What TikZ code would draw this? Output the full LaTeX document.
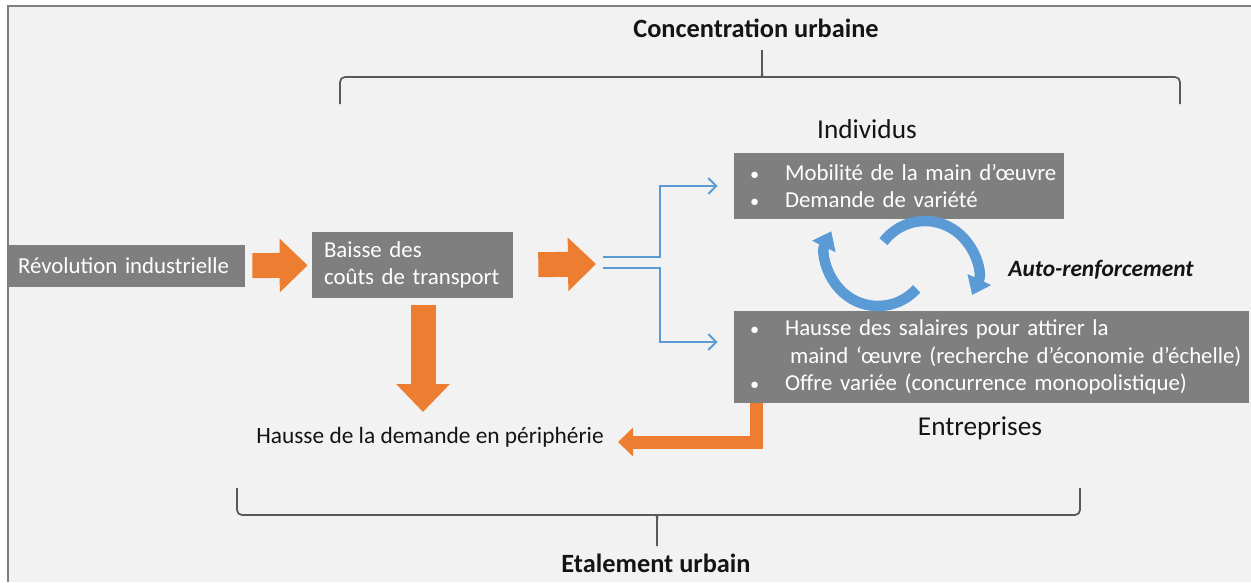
\documentclass[tikz,border=0pt]{standalone}
\usepackage{fontspec}
\setmainfont{Carlito}
\usetikzlibrary{arrows.meta}

\definecolor{orng}{HTML}{ED7D31}
\definecolor{blu}{HTML}{5B9BD5}
\definecolor{boxgray}{HTML}{7F7F7F}
\definecolor{bggray}{HTML}{F2F2F2}
\definecolor{brcgray}{HTML}{595959}

\newcommand{\blt}{\makebox[0.74cm][l]{\hspace*{0.04cm}\scalebox{0.8}{\textbullet}}}
\newcommand{\oneline}[1]{\mbox{#1}}

\begin{document}
\begin{tikzpicture}[x=0.02cm, y=-0.02cm, font=\fontsize{13.3}{15.6}\selectfont, text=black!92]

\tikzset{box/.style = {fill=boxgray, text=white, align=left, inner ysep=0, minimum height=#1, font=\fontsize{13}{15.6}\selectfont}}
\tikzset{title/.style = {font=\fontsize{15}{18}\selectfont\bfseries}}
\tikzset{lbl/.style = {font=\fontsize{15.5}{18}\selectfont}}
\tikzset{fat/.style = {orng, line width=0.5cm, -{Triangle[width=1.04cm, length=0.56cm]}}}
\tikzset{slim/.style = {orng, line width=0.26cm, miter limit=4, -{Triangle[width=0.56cm, length=0.3cm]}}}
\tikzset{link/.style = {blu, line width=0.04cm, -{Straight Barb[width=0.32cm, length=0.16cm]}}}
\tikzset{cycle/.style = {blu, line width=0.21cm, -{Triangle[width=0.5cm, length=0.34cm]}}}
\tikzset{brc/.style = {brcgray, line width=0.035cm, rounded corners=0.1cm}}

% background
\fill[white] (0,0) rectangle (1251,582);
\useasboundingbox (0,0) rectangle (1251,582);
\fill[bggray] (8,6) rectangle (1251,582);
\draw[boxgray, line width=0.05cm] (8,582) -- (8,6) -- (1251,6);

%boxes
\node[box=0.84cm, inner xsep=0.2cm, text width=4.34cm] (rev) at (126.5,266) {\oneline{Révolution industrielle}};
\node[box=1.32cm, inner xsep=0.24cm, text width=3.54cm] (baisse) at (412.5,265) {\oneline{Baisse des}\\\oneline{coûts de transport}};
\node[box=1.34cm, inner xsep=0.28cm, text width=6.04cm] (ind) at (899,186)
  {\oneline{\blt Mobilité de la main d’œuvre}\\\oneline{\blt Demande de variété}};
\node[box=1.84cm, inner xsep=0.28cm, text width=9.74cm] (ent) at (991.5,357)
  {\oneline{\blt Hausse des salaires pour attirer la}\\\oneline{\hspace*{0.84cm}maind ‘œuvre (recherche d’économie d’échelle)}\\\oneline{\blt Offre variée (concurrence monopolistique)}};

%labels
\node[lbl] (indlbl) at (867,129) {Individus};
\node[lbl] (entlbl) at (980,428) {Entreprises};
\node[font=\fontsize{13.3}{15.6}\selectfont\bfseries\itshape] (auto) at (1101,270) {Auto-renforcement};
\node (dem) at (430,437) {Hausse de la demande en périphérie};
\node[title] (conc) at (756,28) {Concentration urbaine};
\node[title] (etal) at (656,563) {Etalement urbain};

%free ends
\coordinate (fork) at (596,264);
\coordinate (f1) at (603,257);
\coordinate (f2) at (603,268);
\coordinate (dtip) at (423,412);
\coordinate (etip) at (618,442);
\coordinate (c1) at (878,254);
\coordinate (c2) at (925,273);

%orange arrows
\draw[fat, shorten <=0.14cm, shorten >=0.08cm] (rev) -- (baisse);
\draw[fat, shorten <=0.5cm] (baisse.east) -- (fork);
\draw[fat, shorten <=0.14cm] (baisse.south -| dtip) -- (dtip);
\draw[slim] (ent.south west) ++(23,0) |- (etip);

%blue links
\draw[link] (f1) -- ++(57,0) |- ([xshift=-0.32cm]ind.west);
\draw[link] (f2) -- ++(57,0) |- ([xshift=-0.32cm, yshift=0.3cm]ent.west);
\draw[cycle] ([shift={(42:52)}]c1) arc[start angle=42, end angle=206, radius=52];
\draw[cycle] ([shift={(-143:52)}]c2) arc[start angle=-143, end angle=25, radius=52];

%braces
\draw[brc] (340,104) -- (340,77) -- (757,77) .. controls (761,77) and (762,74) .. (762,68) -- (762,50);
\draw[brc] (1180,104) -- (1180,77) -- (767,77) .. controls (763,77) and (762,74) .. (762,68);
\draw[brc] (237,488) -- (237,515) -- (652,515) .. controls (656,515) and (657,518) .. (657,524) -- (657,546);
\draw[brc] (1080,488) -- (1080,515) -- (662,515) .. controls (658,515) and (657,518) .. (657,524);

\end{tikzpicture}
\end{document}
